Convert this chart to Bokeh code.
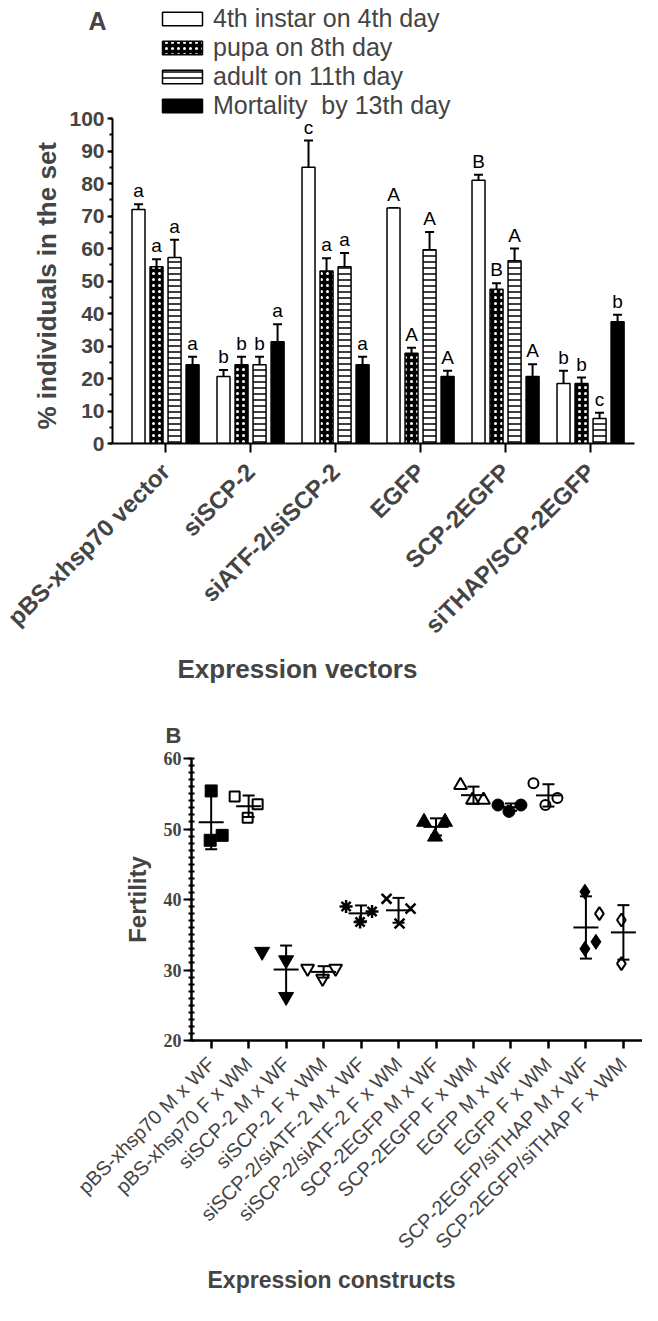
import numpy as np
from math import pi
from bokeh.plotting import figure
from bokeh.models import (Range1d, ColumnDataSource, Whisker, TeeHead, Legend, LegendItem,
                          FixedTicker, Title, LinearAxis)
from bokeh.layouts import column
from bokeh.embed import file_html
from bokeh.resources import INLINE
from bokeh.core.properties import value

# ---------------- Panel A data ----------------
vectors = ["pBS-xhsp70 vector", "siSCP-2", "siATF-2/siSCP-2", "EGFP", "SCP-2EGFP", "siTHAP/SCP-2EGFP"]
series_names = ["4th instar on 4th day", "pupa on 8th day", "adult on 11th day", "Mortality  by 13th day"]
instar4 = [72.0, 20.6, 85.0, 72.5, 81.0, 18.5]
instar4_err = [1.6, 2.0, 8.2, 0.0, 1.7, 3.9]
pupa8 = [54.4, 24.2, 53.1, 27.8, 47.5, 18.5]
pupa8_err = [2.3, 2.5, 3.9, 1.7, 1.8, 1.8]
adult11 = [57.2, 24.2, 54.4, 59.6, 56.2, 7.7]
adult11_err = [5.5, 2.5, 4.2, 5.5, 3.8, 1.8]
mortality13 = [24.2, 31.3, 24.2, 20.6, 20.6, 37.5]
mortality13_err = [2.5, 5.4, 2.5, 1.8, 3.8, 2.1]
letters_instar4 = ["a", "b", "c", "A", "B", "b"]
letters_pupa8 = ["a", "b", "a", "A", "B", "b"]
letters_adult11 = ["a", "b", "a", "A", "A", "c"]
letters_mortality13 = ["a", "a", "a", "A", "A", "b"]
yticks_A = [0, 10, 20, 30, 40, 50, 60, 70, 80, 90, 100]

# ---------------- Panel B data ----------------
constructs = ["pBS-xhsp70 M x WF", "pBS-xhsp70 F x WM", "siSCP-2 M x WF", "siSCP-2 F x WM",
              "siSCP-2/siATF-2 M x WF", "siSCP-2/siATF-2 F x WM", "SCP-2EGFP M x WF",
              "SCP-2EGFP F x WM", "EGFP M x WF", "EGFP F x WM",
              "SCP-2EGFP/siTHAP M x WF", "SCP-2EGFP/siTHAP F x WM"]
fert_pbs_m = [55.4, 48.4, 49.1]
fert_pbs_f = [54.6, 51.6, 53.5]
fert_siscp_m = [32.6, 31.4, 26.2]
fert_siscp_f = [30.2, 28.8, 30.2]
fert_siatf_m = [39.0, 36.8, 38.3]
fert_siatf_f = [40.1, 36.6, 38.7]
fert_scpegfp_m = [51.0, 51.0, 48.9]
fert_scpegfp_f = [56.2, 54.1, 54.1]
fert_egfp_m = [53.4, 52.5, 53.4]
fert_egfp_f = [56.5, 54.4, 53.4]
fert_sithap_m = [41.1, 33.0, 34.0]
fert_sithap_f = [38.0, 37.1, 30.9]
yticks_B = [20, 30, 40, 50, 60]

SANS = "Liberation Sans"
SERIF = "Liberation Serif"

# ================= Panel A =================
pA = figure(width=642, height=705, x_range=Range1d(-0.624, 5.517), y_range=Range1d(0, 135.7),
            output_backend="svg", toolbar_location=None, frame_align=False,
            min_border_left=112, min_border_right=8, min_border_top=2, min_border_bottom=262)
pA.outline_line_color = None
pA.grid.visible = False

bar_offsets = [-0.318, -0.106, 0.106, 0.318]
bar_w = 0.153
vals = [instar4, pupa8, adult11, mortality13]
errs = [instar4_err, pupa8_err, adult11_err, mortality13_err]
lets = [letters_instar4, letters_pupa8, letters_adult11, letters_mortality13]
styles = [
    dict(fill_color="white"),
    dict(fill_color="black", hatch_pattern="dot", hatch_color="white", hatch_scale=6, hatch_weight=3),
    dict(fill_color="white", hatch_pattern="horizontal_line", hatch_color="black", hatch_scale=6, hatch_weight=1.5),
    dict(fill_color="black"),
]
items = []
idx = np.arange(len(vectors))
for j in range(4):
    xs = idx + bar_offsets[j]
    v = np.array(vals[j]); e = np.array(errs[j])
    src = ColumnDataSource(dict(x=xs, top=v, hi=v + e, lab=lets[j]))
    r = pA.vbar(x="x", top="top", width=bar_w, bottom=0, source=src,
                line_color="black", line_width=1.5, **styles[j])
    items.append(LegendItem(label=series_names[j], renderers=[r]))
    pA.add_layout(Whisker(base="x", lower="top", upper="hi", source=src, dimension="height",
                          line_color="black", line_width=2, lower_head=None,
                          upper_head=TeeHead(size=9, line_width=2, line_color="black")))
    pA.text(x="x", y="hi", text="lab", source=src, text_align="center", text_baseline="bottom",
            y_offset=-3, text_font=value(SANS), text_font_size="19px", text_color="black")

legend = Legend(items=items, location=(45, 323), glyph_width=50, glyph_height=17,
                label_text_font=SANS, label_text_font_size="25px", spacing=0, padding=0, margin=0,
                border_line_color=None, background_fill_alpha=0, label_standoff=6, label_height=29)
pA.add_layout(legend)

yA = pA.yaxis[0]
yA.ticker = FixedTicker(ticks=yticks_A, minor_ticks=list(range(0, 101, 5)))
yA.bounds = (0, 100)
yA.axis_line_width = 2
yA.major_tick_line_width = 2
yA.minor_tick_line_width = 2
yA.major_tick_out = 5; yA.major_tick_in = 0
yA.minor_tick_out = 3; yA.minor_tick_in = 0
yA.major_label_text_font = SANS
yA.major_label_text_font_style = "bold"
yA.major_label_text_font_size = "21px"
yA.major_label_standoff = 3

# panel letter "A" carried by a bare extra axis on the left
panel_letter_A = LinearAxis(ticker=FixedTicker(ticks=[130]), major_label_overrides={130: "A"},
                            axis_line_color=None, major_tick_line_color=None, minor_tick_line_color=None,
                            major_label_text_font=SANS, major_label_text_font_style="bold",
                            major_label_text_font_size="25px", major_label_standoff=-46)
pA.add_layout(panel_letter_A, "left")

xA = pA.xaxis[0]
xA.ticker = FixedTicker(ticks=list(range(len(vectors))))
xA.major_label_overrides = {i: n for i, n in enumerate(vectors)}
xA.major_label_orientation = pi / 4
xA.axis_line_width = 2
xA.major_tick_line_width = 2
xA.major_tick_out = 9; xA.major_tick_in = 0
xA.minor_tick_line_color = None
xA.major_label_text_font = SANS
xA.major_label_text_font_style = "bold"
xA.major_label_text_font_size = "24px"
xA.major_label_standoff = 15

pA.add_layout(Title(text="% individuals in the set", align="left", offset=14, standoff=10,
                    text_font=SANS, text_font_style="bold", text_font_size="26px"), "left")
pA.add_layout(Title(text="Expression vectors", align="left", offset=65, standoff=2,
                    text_font=SANS, text_font_style="bold", text_font_size="26px"), "below")

# ================= Panel B =================
pB = figure(width=642, height=600, x_range=Range1d(-0.525, 11.51), y_range=Range1d(20, 60),
            output_backend="svg", toolbar_location=None, frame_align=False,
            min_border_left=191, min_border_right=0, min_border_top=53, min_border_bottom=265)
pB.outline_line_color = None
pB.grid.visible = False

groups = [fert_pbs_m, fert_pbs_f, fert_siscp_m, fert_siscp_f, fert_siatf_m, fert_siatf_f,
          fert_scpegfp_m, fert_scpegfp_f, fert_egfp_m, fert_egfp_f, fert_sithap_m, fert_sithap_f]
# horizontal spread (px) of overlapping points, as GraphPad arranges them
spread_px = [[0, -1, 11], [-14, -1, 9], [-24, 0, 0], [-16, -1, 12], [-15, -1, 11], [-12, 1, 12],
             [-12, 9, -1], [-13, -1, 10], [-13, -2, 10], [-15, 9, -3], [-1, -1, 10], [-24, -2, -2]]
px_per_unit = 37.5
markers = ["square", "square", "inverted_triangle", "inverted_triangle", "asterisk", "x",
           "triangle", "triangle", "circle", "circle", "diamond", "diamond"]
filled = [True, False, True, False, True, False, True, False, True, False, True, False]
msize = [12, 12, 15, 15, 13, 14, 15, 15, 12, 12, 15, 15]

means, sds, gx = [], [], []
for g, pts in enumerate(groups):
    pts = np.array(pts)
    xs = g + np.array(spread_px[g]) / px_per_unit
    src = ColumnDataSource(dict(x=xs, y=pts))
    if markers[g] in ("asterisk", "x"):
        pB.scatter(x="x", y="y", source=src, marker=markers[g], size=msize[g],
                   line_color="black", line_width=2.5)
    elif filled[g]:
        pB.scatter(x="x", y="y", source=src, marker=markers[g], size=msize[g],
                   fill_color="black", line_color="black", line_width=1)
    else:
        pB.scatter(x="x", y="y", source=src, marker=markers[g], size=msize[g] - 2,
                   fill_alpha=0, line_color="black", line_width=2)
    gx.append(g); means.append(pts.mean()); sds.append(pts.std(ddof=1))

means = np.array(means); sds = np.array(sds)
msrc = ColumnDataSource(dict(x=gx, m=means, lo=means - sds, hi=means + sds))
pB.add_layout(Whisker(base="x", lower="lo", upper="hi", source=msrc, dimension="height",
                      line_color="black", line_width=2,
                      lower_head=TeeHead(size=12, line_width=2, line_color="black"),
                      upper_head=TeeHead(size=12, line_width=2, line_color="black")))
pB.scatter(x="x", y="m", source=msrc, marker="dash", size=25, line_color="black", line_width=2)

yB = pB.yaxis[0]
yB.ticker = FixedTicker(ticks=yticks_B, minor_ticks=list(range(20, 61, 1)))
yB.axis_line_width = 2.5
yB.major_tick_line_width = 2
yB.minor_tick_line_width = 2
yB.major_tick_out = 8; yB.major_tick_in = 0
yB.minor_tick_out = 3; yB.minor_tick_in = 3
yB.major_label_text_font = SERIF
yB.major_label_text_font_style = "bold"
yB.major_label_text_font_size = "18px"
yB.major_label_standoff = 2
yB.axis_label = "Fertility"
yB.axis_label_text_font = SANS
yB.axis_label_text_font_style = "bold"
yB.axis_label_text_font_size = "24px"
yB.axis_label_standoff = 10

xB = pB.xaxis[0]
xB.ticker = FixedTicker(ticks=list(range(len(constructs))))
xB.major_label_overrides = {i: n for i, n in enumerate(constructs)}
xB.major_label_orientation = pi / 4
xB.axis_line_width = 2.5
xB.major_tick_line_width = 2.5
xB.major_tick_out = 8; xB.major_tick_in = 0
xB.minor_tick_line_color = None
xB.major_label_text_font = SANS
xB.major_label_text_font_size = "20px"
xB.major_label_standoff = 12

pB.add_layout(Title(text="B", align="left", offset=-26, standoff=22,
                    text_font=SANS, text_font_style="bold", text_font_size="22px"), "above")
pB.add_layout(Title(text="Expression constructs", align="left", offset=16, standoff=3,
                    text_font=SANS, text_font_style="bold", text_font_size="23px"), "below")

layout = column(pA, pB, spacing=0)
open("out.html", "w").write(file_html(layout, INLINE))
